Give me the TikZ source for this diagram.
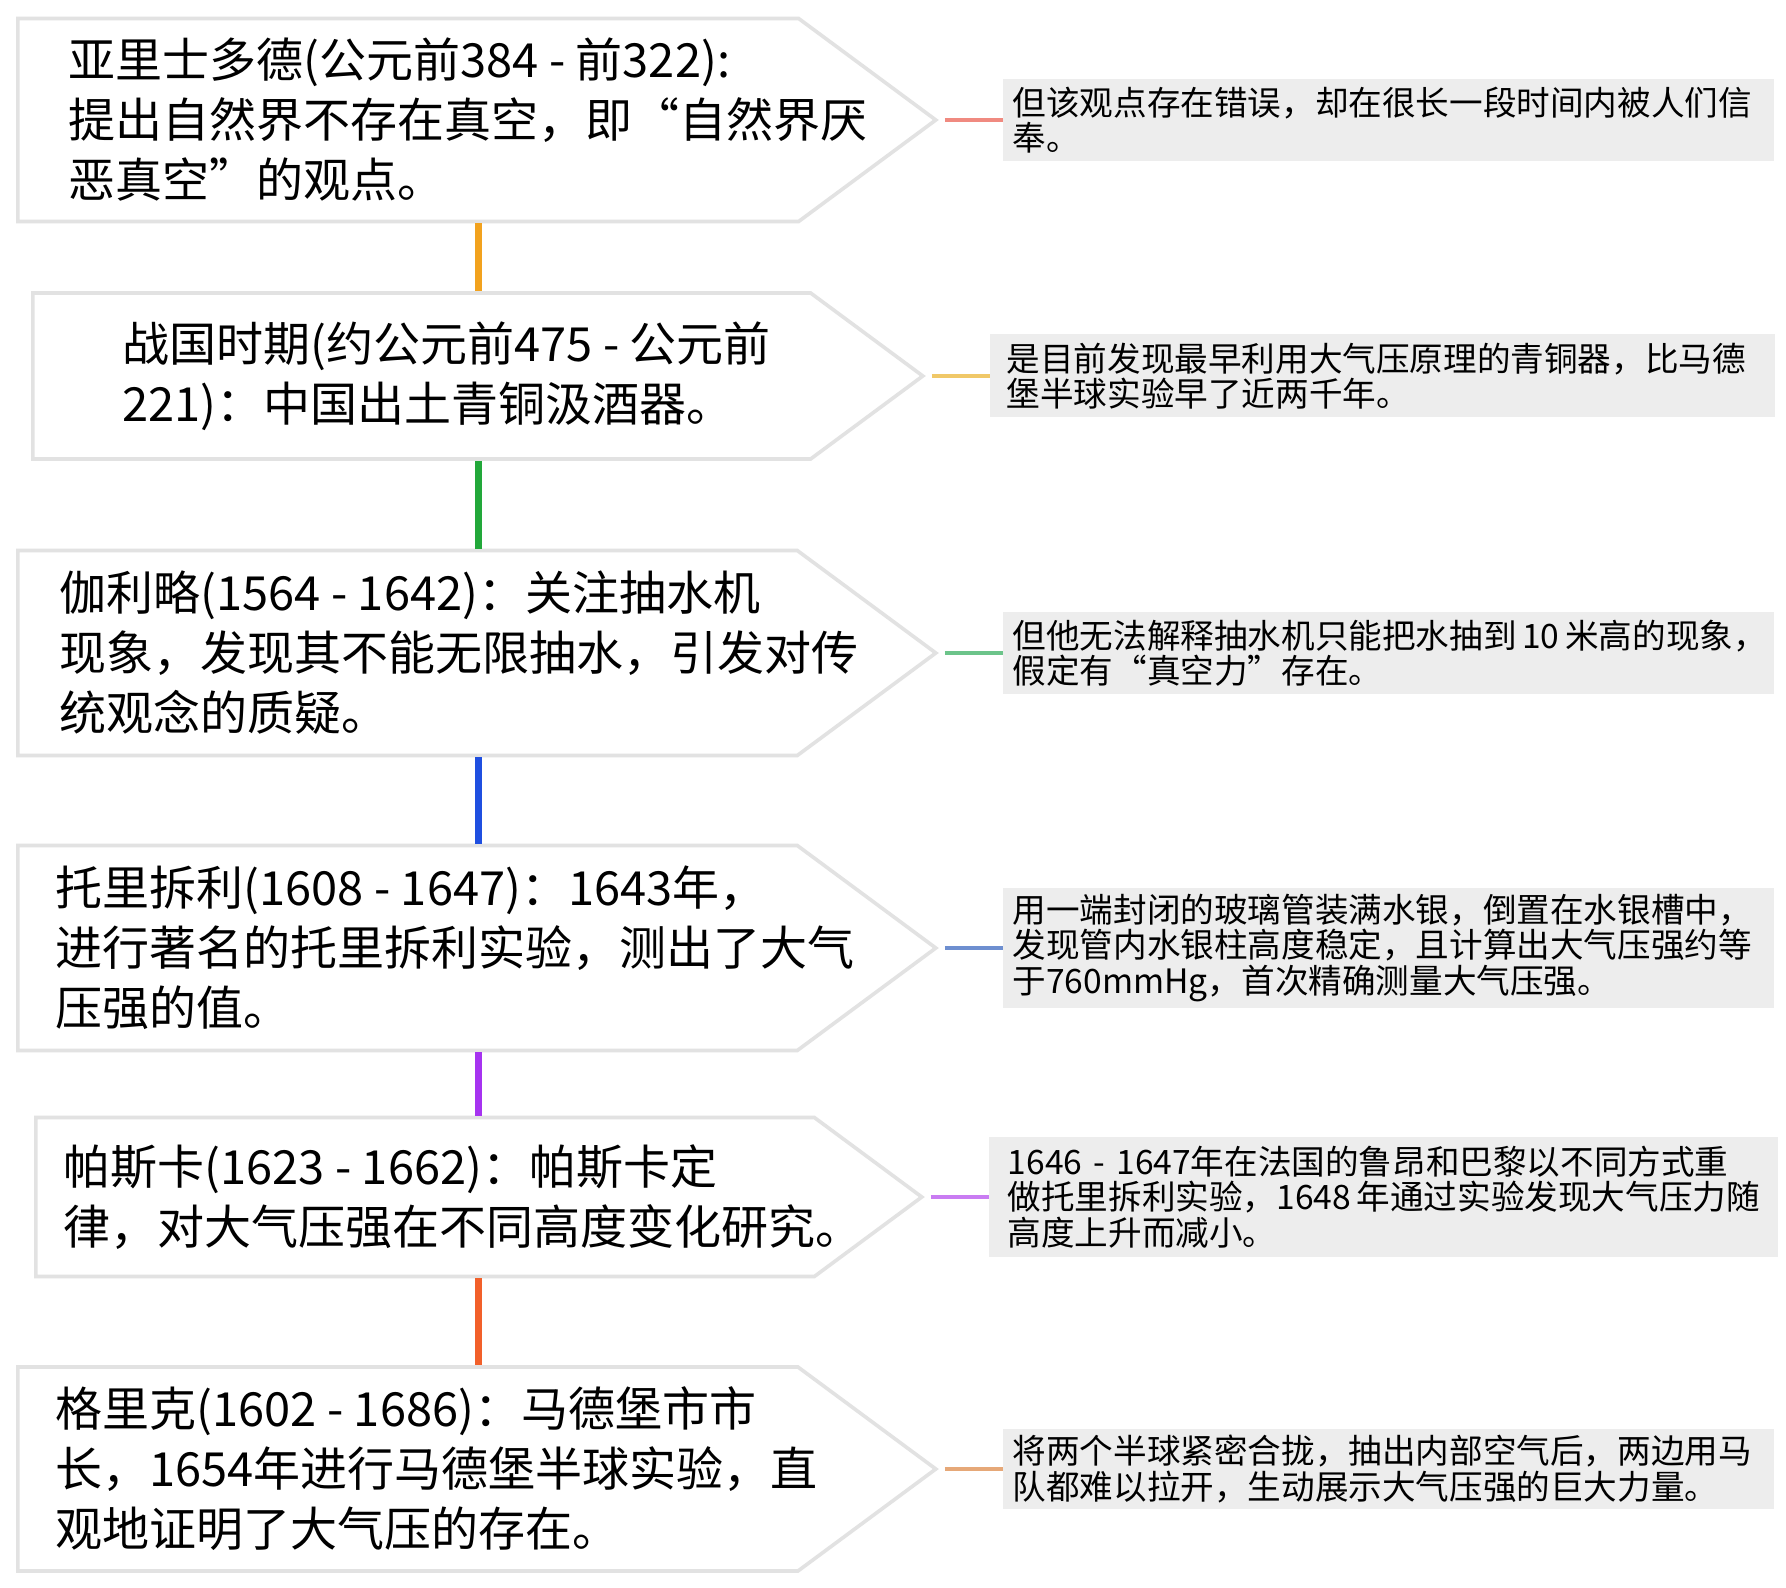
\documentclass[tikz,border=0pt]{standalone}
\usepackage{fontspec}
\setmainfont{Noto Sans CJK SC}
\usetikzlibrary{positioning, shapes.symbols}

\definecolor{framegray}{HTML}{E2E2E2}
\definecolor{notegray}{HTML}{EDEDED}
\definecolor{spineA}{HTML}{F2A21E}
\definecolor{spineB}{HTML}{22A83A}
\definecolor{spineC}{HTML}{1F4FE0}
\definecolor{spineD}{HTML}{A633F0}
\definecolor{spineE}{HTML}{F2602A}
\definecolor{twigA}{HTML}{F08A80}
\definecolor{twigB}{HTML}{F0C868}
\definecolor{twigC}{HTML}{6CC48A}
\definecolor{twigD}{HTML}{6E8FD0}
\definecolor{twigE}{HTML}{C97CF2}
\definecolor{twigF}{HTML}{E6A878}

\begin{document}
\begin{tikzpicture}[
    x=0.5pt, y=-0.5pt,
    era/.style={signal, signal to=east, signal pointer angle=73, draw=framegray, line width=1.8pt, fill=white, anchor=west, inner sep=0pt, minimum width=459pt},
    event/.style={align=left, inner sep=0pt, font=\fontsize{23.5pt}{30pt}\selectfont},
    note/.style={fill=notegray, align=left, inner xsep=4.5pt, inner ysep=0pt, text width=376pt, minimum width=385.5pt, minimum height=41pt, font=\fontsize{16.8pt}{17.6pt}\selectfont},
    spine/.style={line width=3.5pt},
    twig/.style={line width=2pt, shorten <=3pt}
]
\fill[white] (0,0) rectangle (1786,1588);
\useasboundingbox (0,0) rectangle (1786,1588);
\coordinate (spine) at (478,0);

% timeline boxes
\node[era, minimum height=101.5pt] (p1) at (16,120) {};
\node[era, minimum height=83pt, minimum width=445pt] (p2) at (31,376) {};
\node[era, minimum height=102.5pt] (p3) at (16,653) {};
\node[era, minimum height=102.5pt] (p4) at (16,948) {};
\node[era, minimum height=79.5pt, minimum width=443pt] (p5) at (34,1197) {};
\node[era, minimum height=102pt] (p6) at (16,1469) {};

\node[event, right=26pt of p1.west] (e1) {亚里士多德(公元前384 - 前322):\\提出自然界不存在真空，即“自然界厌\\恶真空”的观点。};
\node[event, right=45.5pt of p2.west] (e2) {战国时期(约公元前475 - 公元前\\221)：中国出土青铜汲酒器。};
\node[event, right=21.5pt of p3.west] (e3) {伽利略(1564 - 1642)：关注抽水机\\现象，发现其不能无限抽水，引发对传\\统观念的质疑。};
\node[event, right=19.5pt of p4.west] (e4) {托里拆利(1608 - 1647)：1643年，\\进行著名的托里拆利实验，测出了大气\\压强的值。};
\node[event, right=14.5pt of p5.west] (e5) {帕斯卡(1623 - 1662)：帕斯卡定\\律，对大气压强在不同高度变化研究。};
\node[event, right=19.5pt of p6.west] (e6) {格里克(1602 - 1686)：马德堡市市\\长，1654年进行马德堡半球实验，直\\观地证明了大气压的存在。};

% side notes
\node[note, right=32pt of p1.east] (n1) {但该观点存在错误，却在很长一段时间内被人们信\\奉。};
\node[note, right=32pt of p2.east, minimum width=392.5pt, minimum height=41.5pt] (n2) {是目前发现最早利用大气压原理的青铜器，比马德\\堡半球实验早了近两千年。};
\node[note, right=32pt of p3.east] (n3) {但他无法解释抽水机只能把水抽到\,10\,米高的现象，\\假定有“真空力”存在。};
\node[note, right=32pt of p4.east, minimum height=60pt] (n4) {用一端封闭的玻璃管装满水银，倒置在水银槽中，\\发现管内水银柱高度稳定，且计算出大气压强约等\\于760mmHg，首次精确测量大气压强。};
\node[note, right=32pt of p5.east, minimum width=394.5pt, minimum height=60pt] (n5) {1646 - 1647年在法国的鲁昂和巴黎以不同方式重\\做托里拆利实验，1648\,年通过实验发现大气压力随\\高度上升而减小。};
\node[note, right=32pt of p6.east, minimum height=40pt] (n6) {将两个半球紧密合拢，抽出内部空气后，两边用马\\队都难以拉开，生动展示大气压强的巨大力量。};

\draw[spine, spineA] (p1.south -| spine) -- (p2.north -| spine);
\draw[spine, spineB] (p2.south -| spine) -- (p3.north -| spine);
\draw[spine, spineC] (p3.south -| spine) -- (p4.north -| spine);
\draw[spine, spineD] (p4.south -| spine) -- (p5.north -| spine);
\draw[spine, spineE] (p5.south -| spine) -- (p6.north -| spine);

\draw[twig, twigA] (p1.east) -- (n1.west);
\draw[twig, twigB] (p2.east) -- (n2.west);
\draw[twig, twigC] (p3.east) -- (n3.west);
\draw[twig, twigD] (p4.east) -- (n4.west);
\draw[twig, twigE] (p5.east) -- (n5.west);
\draw[twig, twigF] (p6.east) -- (n6.west);
\end{tikzpicture}
\end{document}
